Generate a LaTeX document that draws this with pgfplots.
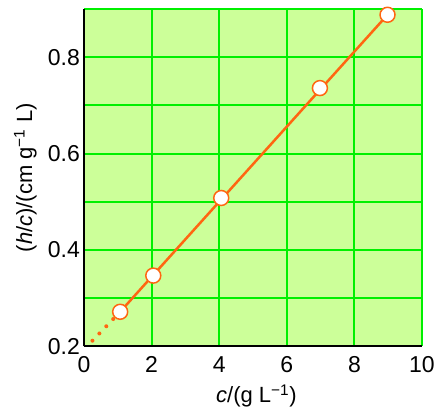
\documentclass[border=0pt]{standalone}
\usepackage{fontspec}
\setmainfont{Liberation Sans}
\usepackage{pgfplots}
\pgfplotsset{compat=1.18}
\definecolor{bg}{RGB}{204,255,153}
\definecolor{gridgreen}{RGB}{0,240,0}
\definecolor{fitorange}{RGB}{255,102,17}

\begin{document}
\begin{tikzpicture}
\begin{axis}[
  name=ax,
  scale only axis, width=338pt, height=337.5pt,
  xmin=0, xmax=10, ymin=0.2, ymax=0.9,
  xtick={0,2,...,10},
  ytick={0.2,0.4,0.6,0.8},
  minor ytick={0.3,0.5,0.7,0.9},
  grid=both,
  major grid style={gridgreen, line width=2pt},
  minor grid style={gridgreen, line width=2pt},
  axis background/.style={fill=bg},
  axis lines*=left,
  axis line style={black, line width=2pt, -},
  major tick length=0pt, minor tick length=0pt,
  /pgf/number format/assume math mode=true,
  tick label style={font=\fontsize{23}{27}\selectfont, inner sep=0pt},
  yticklabel style={xshift=-4pt, /pgf/number format/fixed, /pgf/number format/precision=1},
  xticklabel style={yshift=-10pt},
  clip=false,
  label style={font=\fontsize{22}{26}\selectfont, inner sep=0pt},
  xlabel={\textit{c}/(g L\textsuperscript{−1})},
  ylabel={(\textit{h}/\textit{c})/(cm g\textsuperscript{−1} L)},
  xlabel style={at={(axis description cs:0.51,-0.167)}, anchor=base},
  ylabel style={at={(axis description cs:-0.139,0.5)}, anchor=south},
]
% extrapolation to c = 0
\addplot[fitorange, line width=4pt, line cap=round, dash pattern=on 0pt off 10pt]
  coordinates {(0.25,0.212) (1.07,0.272)};
% fitted line
\addplot[fitorange, line width=2.5pt] coordinates {(1.07,0.272) (8.98,0.888)};
% measured points
\addplot[only marks, mark=*, mark size=7.5pt,
  mark options={fill=white, draw=fitorange, line width=1.5pt}]
  coordinates {(1.07,0.272) (2.05,0.347) (4.06,0.508) (6.98,0.736) (8.98,0.888)};
\end{axis}
\path ([shift={(-84pt,-62.5pt)}]ax.south west) rectangle ([shift={(15pt,9pt)}]ax.north east);
\end{tikzpicture}
\end{document}
